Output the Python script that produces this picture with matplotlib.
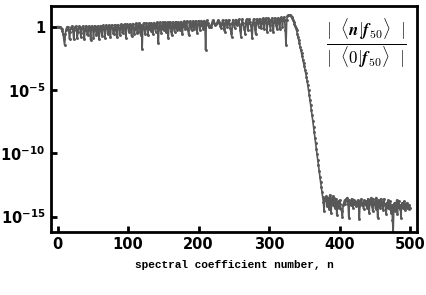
import matplotlib
matplotlib.use("Agg")
import matplotlib.pyplot as plt
import matplotlib.ticker as mticker
import numpy as np

# ----------------------------------------------------------------------------------------------------------------------
# log10 of |<n|f50>| / |<0|f50>|
# n = 0 .. 329 : oscillating plateau
plateau_log = [
    0.0, 0.0, 0.0, -0.02, -0.05, -0.1, -0.2, -0.35, -0.6, -1.0,
    -1.45, -0.6, -0.25, -0.08, 0.0, -0.05, -0.3, -1.0, -0.4, -0.1,
    0.02, -0.08, -0.35, -1.0, -0.3, 0.0, 0.02, -0.2, -0.9, -0.4,
    -0.05, 0.03, -0.15, -0.8, -0.5, -0.05, 0.04, -0.2, -1.0, -0.25,
    0.05, -0.05, -0.6, -0.7, -0.05, 0.06, -0.3, -1.05, -0.15, 0.06,
    -0.1, -0.9, -0.3, 0.07, -0.05, -0.7, -0.5, 0.05, -0.1, -1.0,
    -0.2,
    0.08, -0.3, -0.75, 0.0, 0.1, -0.2, -0.9, -0.1, 0.12, -0.05,
    -0.6, -0.4, 0.12, 0.0, -0.8, -0.05, 0.14, -0.1, -0.5, -0.6,
    0.1, 0.15, -0.3, -0.85, 0.05, 0.16, -0.15, -0.7, -0.2, 0.18,
    0.05, -0.45, -0.5, 0.15, 0.2, -0.25, -0.9, 0.0, 0.2, 0.1,
    -0.4, -0.3, 0.22, 0.05, -0.75, -0.05, 0.24, -0.1, -0.6, -0.2,
    0.25, 0.1, -0.5, -0.4, 0.26, 0.15, -0.3, -0.7, 0.1, -1.8,
    0.05, 0.28, -0.1, -0.55, -0.1, 0.3, 0.0, -0.7, 0.05, 0.3,
    -0.2, -0.35, 0.3, 0.15, -0.6, -0.1, 0.32, -0.05, -0.4, 0.2,
    0.33, -0.3, -1.3, 0.25, 0.34, -0.1, -0.5, 0.1, 0.35, -0.2,
    -0.3, 0.35, 0.2, -0.45, 0.0, 0.36, -0.9, -0.05, 0.37, 0.1,
    -0.35, -0.7, 0.3, 0.38, -0.15, -0.4, 0.2, 0.39, -0.1, -0.25,
    0.35, 0.3, -0.3, -0.2, 0.4, 0.2, -0.6, 0.05, 0.41, 0.1,
    -0.2, 0.3, 0.42, -0.1, -0.25, -0.65, 0.35, 0.43, 0.0, -0.3,
    0.3, 0.44, -0.05, -0.2, 0.4, 0.45, 0.1, -0.5, 0.2, 0.46,
    0.2, -0.3, 0.1, 0.47, 0.35, 0.0, -0.2, 0.48, 0.3, -1.85,
    0.3, 0.49, 0.3, 0.1, 0.0, -0.05, 0.0, 0.1, 0.3, 0.5,
    0.45, 0.3, 0.2, 0.15, 0.2, 0.3, 0.45, 0.51, 0.4, 0.2,
    0.05, -0.1, 0.2, 0.52, 0.3, -0.2, -0.4, 0.3, 0.53, 0.2,
    0.0, 0.4, 0.54, 0.2, -0.1, -0.5, -0.8, 0.3, 0.55, 0.2,
    -0.1, 0.3, 0.56, 0.4, 0.1, 0.35, 0.57, 0.2, -0.3, -0.8,
    0.2, 0.58, 0.3, 0.0, -0.2, -0.6, 0.4, 0.59, 0.2, -0.3,
    0.3, 0.6, 0.4, 0.1, -0.3, -0.9, 0.3, 0.61, 0.3, -0.2,
    -0.6, 0.4, 0.62, 0.3, 0.0, 0.5, 0.63, 0.3, -0.1, 0.4,
    0.64, 0.3, -0.2, 0.5, 0.65, 0.4, -0.4, 0.3, 0.66, 0.5,
    0.1, -0.3, 0.55, 0.67, 0.4, -0.4, 0.4, 0.68, 0.5, 0.1,
    -0.2, 0.6, 0.7, 0.3, -0.2, 0.5, 0.72, 0.5, 0.0, 0.6,
    0.75, 0.5, -0.3, -1.45, 0.5, 0.82, 0.88, 0.91, 0.92,
]

# n = 330 .. 377 : steep fall-off
dropoff_log = [
    0.9, 0.85, 0.75, 0.65, 0.53, 0.4, 0.22, 0.05, -0.12, -0.3,
    -0.55, -0.8, -1.05, -1.3, -1.58, -1.85, -2.1, -2.35, -2.6, -2.9,
    -3.15, -3.4, -3.7, -3.95, -4.3, -4.65, -5.0, -5.4, -5.8, -6.2,
    -6.58, -7.0, -7.45, -7.9, -8.35, -8.8, -9.2, -9.65, -10.1, -10.5,
    -10.95, -11.4, -11.85, -12.25, -12.65, -13.05, -13.45, -13.85,
]

# n = 378 .. 500 : round-off floor
floor_log = [
    -14.6, -13.5, -13.7, -13.4, -14.2, -13.6, -13.5, -14.4, -13.3, -13.8,
    -14.7, -13.6, -13.4, -14.1, -13.5, -14.3, -13.9, -13.6, -14.9, -14.2,
    -13.8, -14.3, -13.7, -14.0, -14.4, -14.6, -15.0, -14.1, -13.9, -13.7,
    -14.0, -13.6, -13.8, -13.5, -14.0, -15.1, -13.7, -13.9, -14.1, -13.6,
    -13.8, -14.3, -13.7, -14.0, -13.8, -14.2, -13.9, -14.0, -13.7, -14.2,
    -15.2, -13.8, -14.0, -13.6, -14.1, -13.9, -14.4, -13.7, -14.0, -14.1,
    -13.8, -14.3, -13.6, -14.0, -14.7, -13.7, -14.0, -13.5, -14.2, -14.6,
    -13.6, -14.0, -13.9, -14.4, -13.5, -14.1, -15.1, -13.7, -13.9, -14.3,
    -13.6, -14.0, -14.2, -13.8, -14.5, -13.6, -14.1, -14.0, -14.8, -13.9,
    -14.3, -13.7, -14.0, -14.4, -13.8, -14.7, -14.1, -15.3, -16.2, -14.0,
    -13.9, -14.6, -14.2, -13.7, -14.8, -14.0, -13.8, -14.4, -14.1, -15.1,
    -14.0, -13.9, -14.3, -14.0, -13.8, -14.5, -14.0, -14.3, -13.9, -14.1,
    -14.4, -14.1, -14.3,
]

x_ticks = [0, 100, 200, 300, 400, 500]
y_ticks = [1e0, 1e-5, 1e-10, 1e-15]
y_tick_labels = ["1", r"$\mathbf{10^{-5}}$", r"$\mathbf{10^{-10}}$", r"$\mathbf{10^{-15}}$"]

# ----------------------------------------------------------------------------------------------------------------------
log_coef = np.array(plateau_log + dropoff_log + floor_log)
n = np.arange(len(log_coef))
coef = 10.0 ** log_coef

fig = plt.figure(figsize=(4.27, 2.95), dpi=100)
ax = fig.add_axes([0.119, 0.215, 0.858, 0.765])

ax.plot(n, coef, color="#585858", lw=1.2, marker="o", ms=1.1, mec="#585858", mfc="#585858")

ax.set_yscale("log")
ax.set_xlim(-9.5, 510)
ax.set_ylim(10 ** -16.19, 10 ** 1.635)

ax.set_xticks(x_ticks)
ax.set_xticklabels([str(t) for t in x_ticks], fontsize=10.5, fontweight="bold")
ax.set_yticks(y_ticks)
ax.set_yticklabels(y_tick_labels, fontsize=10.5, fontweight="bold")
ax.yaxis.set_minor_locator(mticker.NullLocator())
ax.tick_params(direction="in", length=4.5, width=2, pad=4)

for sp in ax.spines.values():
    sp.set_linewidth(2)

ax.set_xlabel("spectral coefficient number, n", family="Liberation Mono",
              fontweight="bold", fontsize=8, labelpad=6)

ax.text(0.858, 0.853,
        r"$\frac{|\ \ \langle \mathbfit{n}|\mathbfit{f}_{\mathbf{50}}\rangle\ \ |}"
        r"{|\ \ \langle \mathbf{0}|\mathbfit{f}_{\mathbf{50}}\rangle\ \ |}$",
        transform=fig.transFigure, ha="center", va="center", fontsize=17.5, math_fontfamily="cm")

fig.savefig("out.png", dpi=100)
